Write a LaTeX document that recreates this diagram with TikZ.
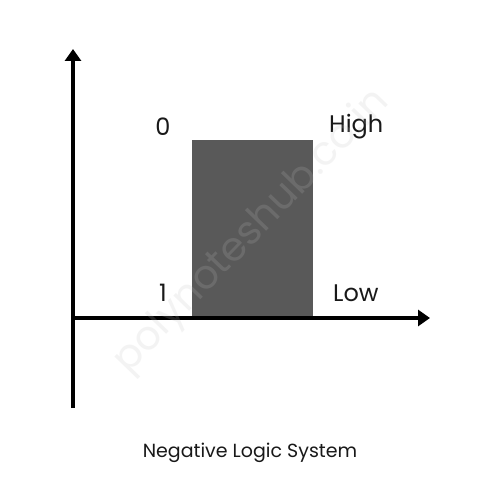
\documentclass[tikz,border=0pt]{standalone}
\usepackage{fontspec}
\setmainfont{Poppins}
\usetikzlibrary{arrows.meta}
\begin{document}
\begin{tikzpicture}[x=1pt,y=-1pt,
  axis/.style={line width=3.6pt,-{Triangle[width=16pt,length=12pt]}},
  lbl/.style={inner sep=0pt,font=\fontsize{24}{28}\selectfont,text=black!90},
  wm/.style={inner sep=0pt,font=\fontsize{40}{46}\selectfont,text=black!25,text opacity=0.18}]
\useasboundingbox[fill=white] (0,0) rectangle (500,500);
\coordinate (o) at (73,318);
\coordinate (ybot) at (73,408);
\coordinate (ytop) at (73,49);
\coordinate (xend) at (430,318);
\fill[fill=black!65] (192,140) rectangle (313,318);
\draw[axis] (ybot) -- (ytop);
\draw[axis] (o) -- (xend);
\node[lbl] (zero) at (163,127) {0};
\node[lbl] (one) at (163,293) {1};
\node[lbl,anchor=west] (high) at (329,127) {High};
\node[lbl,anchor=west] (low) at (333,293) {Low};
\node[inner sep=0pt,font=\fontsize{19}{23}\selectfont,text=black!90] (cap) at (250,453) {Negative Logic System};
\node[wm,rotate=46] (wmark) at (252,232) {polynoteshub.co.in};
\end{tikzpicture}
\end{document}
